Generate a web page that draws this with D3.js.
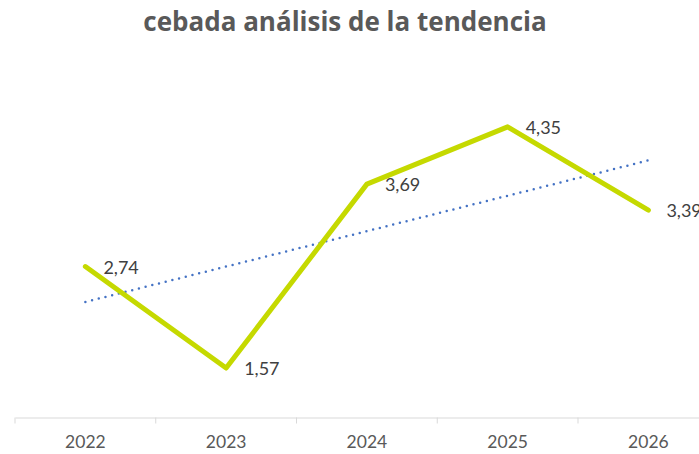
<!DOCTYPE html>
<html>
<head>
<meta charset="utf-8">
<script src="https://cdn.jsdelivr.net/npm/d3@7"></script>
<style>
  body { margin: 0; background: #fff; }
  svg { display: block; font-family: Lato, "Open Sans", sans-serif; }
</style>
</head>
<body>
<div class="chart"></div>
<script>
  // data
  var years = ["2022", "2023", "2024", "2025", "2026"];
  var values = [2.74, 1.57, 3.69, 4.35, 3.39];
  var labels = ["2,74", "1,57", "3,69", "4,35", "3,39"];

  var width = 699, height = 454;

  var svg = d3.select(".chart").append("svg")
    .attr("width", width)
    .attr("height", height);

  // scales
  var x = d3.scaleBand().domain(years).range([15, 718.75]);
  var y = d3.scaleLinear().domain([1, 5]).range([417.5, 70.5]);
  var cx = function(d) { return x(d) + x.bandwidth() / 2; };

  // title
  svg.append("text")
    .attr("x", 345).attr("y", 31)
    .attr("text-anchor", "middle")
    .attr("font-family", "'Open Sans', sans-serif")
    .attr("font-size", 26).attr("font-weight", "bold")
    .attr("fill", "#595959")
    .text("cebada análisis de la tendencia");

  // x axis
  var axis = svg.append("g")
    .attr("transform", "translate(0,417.5)")
    .call(d3.axisBottom(x).tickSize(0).tickPadding(18));
  axis.select(".domain").attr("stroke", "#d9d9d9");
  axis.selectAll("text").attr("font-size", 17.5).attr("fill", "#595959")
    .attr("font-family", "Lato, sans-serif");
  // tick marks between categories
  axis.selectAll(".sep")
    .data(years.concat(["end"]))
    .enter().append("line")
    .attr("x1", function(d, i) { return 15 + i * x.step(); })
    .attr("x2", function(d, i) { return 15 + i * x.step(); })
    .attr("y1", 0).attr("y2", 6)
    .attr("stroke", "#d9d9d9");

  // linear trend (least squares on index)
  var mx = d3.mean(values, function(d, i) { return i; });
  var my = d3.mean(values);
  var slope = d3.sum(values, function(d, i) { return (i - mx) * (d - my); }) /
    d3.sum(values, function(d, i) { return (i - mx) * (i - mx); });
  var trend = years.map(function(d, i) { return my + slope * (i - mx); });

  svg.append("path")
    .datum(years)
    .attr("fill", "none")
    .attr("stroke", "#4472c4")
    .attr("stroke-width", 2.5)
    .attr("stroke-linecap", "round")
    .attr("stroke-dasharray", "0 6.9")
    .attr("d", d3.line()
      .x(function(d) { return cx(d); })
      .y(function(d, i) { return y(trend[i]); }));

  // main line
  svg.append("path")
    .datum(years)
    .attr("fill", "none")
    .attr("stroke", "#c5d900")
    .attr("stroke-width", 5)
    .attr("stroke-linejoin", "round")
    .attr("stroke-linecap", "round")
    .attr("d", d3.line()
      .x(function(d) { return cx(d); })
      .y(function(d, i) { return y(values[i]); }));

  // data labels
  svg.selectAll(".lbl")
    .data(years)
    .enter().append("text")
    .attr("class", "lbl")
    .attr("x", function(d) { return cx(d) + 18; })
    .attr("y", function(d, i) { return y(values[i]); })
    .attr("dy", "0.4em")
    .attr("font-size", 18)
    .attr("fill", "#404040")
    .text(function(d, i) { return labels[i]; });
</script>
</body>
</html>
